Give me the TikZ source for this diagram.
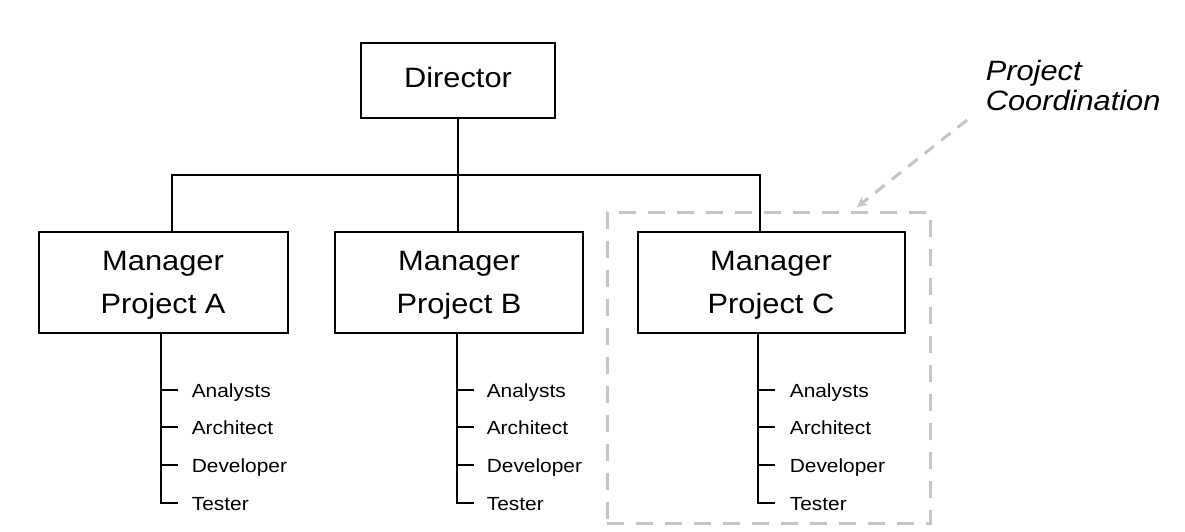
\documentclass[tikz,border=0pt]{standalone}
\usepackage{fontspec}
\setmainfont{Liberation Sans}[FakeStretch=1.1]
\usetikzlibrary{arrows.meta}
\definecolor{dashgray}{RGB}{198,198,198}
\begin{document}
\begin{tikzpicture}[x=1pt,y=-1pt,
  line width=1.6pt, line join=miter,
  orgbox/.style={draw=black, line width=1.6pt, inner sep=0pt, fill=white},
  bigtxt/.style={inner sep=0pt, font=\fontsize{28}{34}\selectfont},
  smalltxt/.style={inner sep=0pt, font=\fontsize{19}{23}\selectfont},
  notetxt/.style={inner sep=0pt, font=\fontsize{28}{34}\selectfont\itshape},
  grouping/.style={draw=dashgray, line width=3pt, dash pattern=on 17pt off 12pt, inner sep=0pt},
  noteline/.style={draw=dashgray, line width=3pt, dash pattern=on 12pt off 9pt, -{Stealth[length=10pt,width=10pt]}}
]
\useasboundingbox (0,0) rectangle (1185,531);

% grouping frame
\node[grouping, minimum width=323pt, minimum height=311pt] (grp) at (768.5,367.5) {};

% boxes
\node[orgbox, minimum width=194pt, minimum height=75pt] (dir) at (458,80.5) {};
\node[orgbox, minimum width=249pt, minimum height=101pt] (mA) at (163.5,282.5) {};
\node[orgbox, minimum width=248pt, minimum height=101pt] (mB) at (459,282.5) {};
\node[orgbox, minimum width=267pt, minimum height=101pt] (mC) at (771.5,282.5) {};

% box texts
\node[bigtxt, anchor=base] (dirT) at (458,87) {Director};
\node[bigtxt, anchor=base] (mA1) at (163,270) {Manager};
\node[bigtxt, anchor=base] (mA2) at (163,313) {Project A};
\node[bigtxt, anchor=base] (mB1) at (459,270) {Manager};
\node[bigtxt, anchor=base] (mB2) at (459,313) {Project B};
\node[bigtxt, anchor=base] (mC1) at (771,270) {Manager};
\node[bigtxt, anchor=base] (mC2) at (771,313) {Project C};

% tree connectors
\coordinate (j) at (458,175);
\coordinate (tA) at (172,232);
\coordinate (tC) at (760,232);
\draw (dir.south) -- (j);
\draw (tA) -- (tA |- j) -- (tC |- j) -- (tC);
\draw (j) -- (j |- mB.north);

% sub-lists
\foreach \n/\tx/\lx in {A/161/191, B/457/486, C/758/789} {
  \coordinate (s\n) at (\tx,333);
  \coordinate (e\n) at (\tx,503);
  \draw (s\n) -- (e\n) -- ++(17,0);
  \foreach \yy/\t [count=\i] in {390/Analysts,427/Architect,465/Developer,503/Tester} {
    \coordinate (k\n\i) at (\tx,\yy);
    \node[smalltxt, anchor=base west] (i\n\i) at (\lx,\yy+7) {\t};
    \draw (k\n\i) -- ++(17,0);
  }
}

% note
\node[notetxt, anchor=base west] (note1) at (985,80) {Project};
\node[notetxt, anchor=base west] (note2) at (985,110) {Coordination};
\coordinate (nStart) at (967,120);
\coordinate (nEnd) at (857,207);
\draw[noteline] (nStart) -- (nEnd);
\end{tikzpicture}
\end{document}
